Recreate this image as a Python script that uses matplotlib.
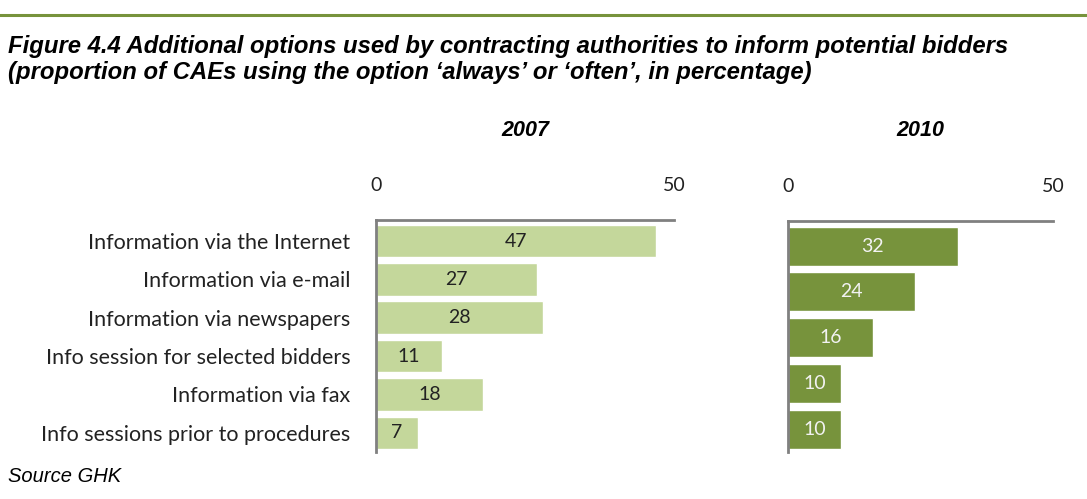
import matplotlib
matplotlib.use('Agg')
import matplotlib.pyplot as plt
from matplotlib.lines import Line2D

categories = ['Information via the Internet', 'Information via e-mail',
              'Information via newspapers', 'Info session for selected bidders',
              'Information via fax', 'Info sessions prior to procedures']
values_2007 = [47, 27, 28, 11, 18, 7]
values_2010 = [32, 24, 16, 10, 10]
years = ['2007', '2010']

light_green = '#C4D79B'
dark_green = '#77933C'
axis_grey = '#808080'

fig = plt.figure(figsize=(10.87, 4.99), dpi=100)

# rule across the top
fig.add_artist(Line2D([0, 1], [1 - 15 / 499, 1 - 15 / 499], color=dark_green, lw=2.2))

fig.text(8 / 1087, 1 - 47 / 499,
         'Figure 4.4 Additional options used by contracting authorities to inform potential bidders',
         family='Liberation Sans', weight='bold', style='italic', fontsize=17.2, va='center')
fig.text(8 / 1087, 1 - 73 / 499,
         "(proportion of CAEs using the option \u2018always\u2019 or \u2018often\u2019, in percentage)",
         family='Liberation Sans', weight='bold', style='italic', fontsize=17.2, va='center')
fig.text(8 / 1087, 1 - 476 / 499, 'Source GHK', family='Liberation Sans', style='italic',
         fontsize=14.5, va='center')


def panel(rect, vals, color, txtcolor, year, labels=None):
    ax = fig.add_axes(rect)
    n = len(vals)
    y = list(range(n))
    ax.barh(y, vals, height=0.85, color=color, edgecolor='white', linewidth=1)
    ax.set_xlim(0, 50)
    ax.set_ylim(n - 0.5, -0.55)
    ax.xaxis.tick_top()
    ax.set_xticks([0, 50])
    ax.tick_params(axis='x', length=0, pad=19, labelsize=14, labelcolor='#222222')
    for lab in ax.get_xticklabels():
        lab.set_family('Lato')
    if labels is not None:
        ax.set_yticks(y)
        ax.set_yticklabels(labels, family='Lato', fontsize=15.5, color='#222222')
        ax.tick_params(axis='y', length=0, pad=18.5)
    else:
        ax.set_yticks([])
    for s in ['right', 'bottom']:
        ax.spines[s].set_visible(False)
    for s in ['top', 'left']:
        ax.spines[s].set_color(axis_grey)
        ax.spines[s].set_linewidth(2)
    for yi, v in zip(y, vals):
        ax.text(v / 2, yi, str(v), ha='center', va='center', family='Lato',
                fontsize=14, color=txtcolor)
    x0, y0, w, h = rect
    fig.text(x0 + w / 2, 1 - 131 / 499, year, ha='center', va='center',
             family='Liberation Sans', weight='bold', style='italic', fontsize=15.5)
    return ax


panel([376 / 1087, 1 - 452 / 499, 298 / 1087, 232 / 499], values_2007, light_green,
      '#222222', years[0], categories)
panel([788 / 1087, 1 - 452 / 499, 265 / 1087, 231 / 499], values_2010, dark_green,
      '#F2F2F2', years[1])

fig.savefig('out.png', dpi=100)
